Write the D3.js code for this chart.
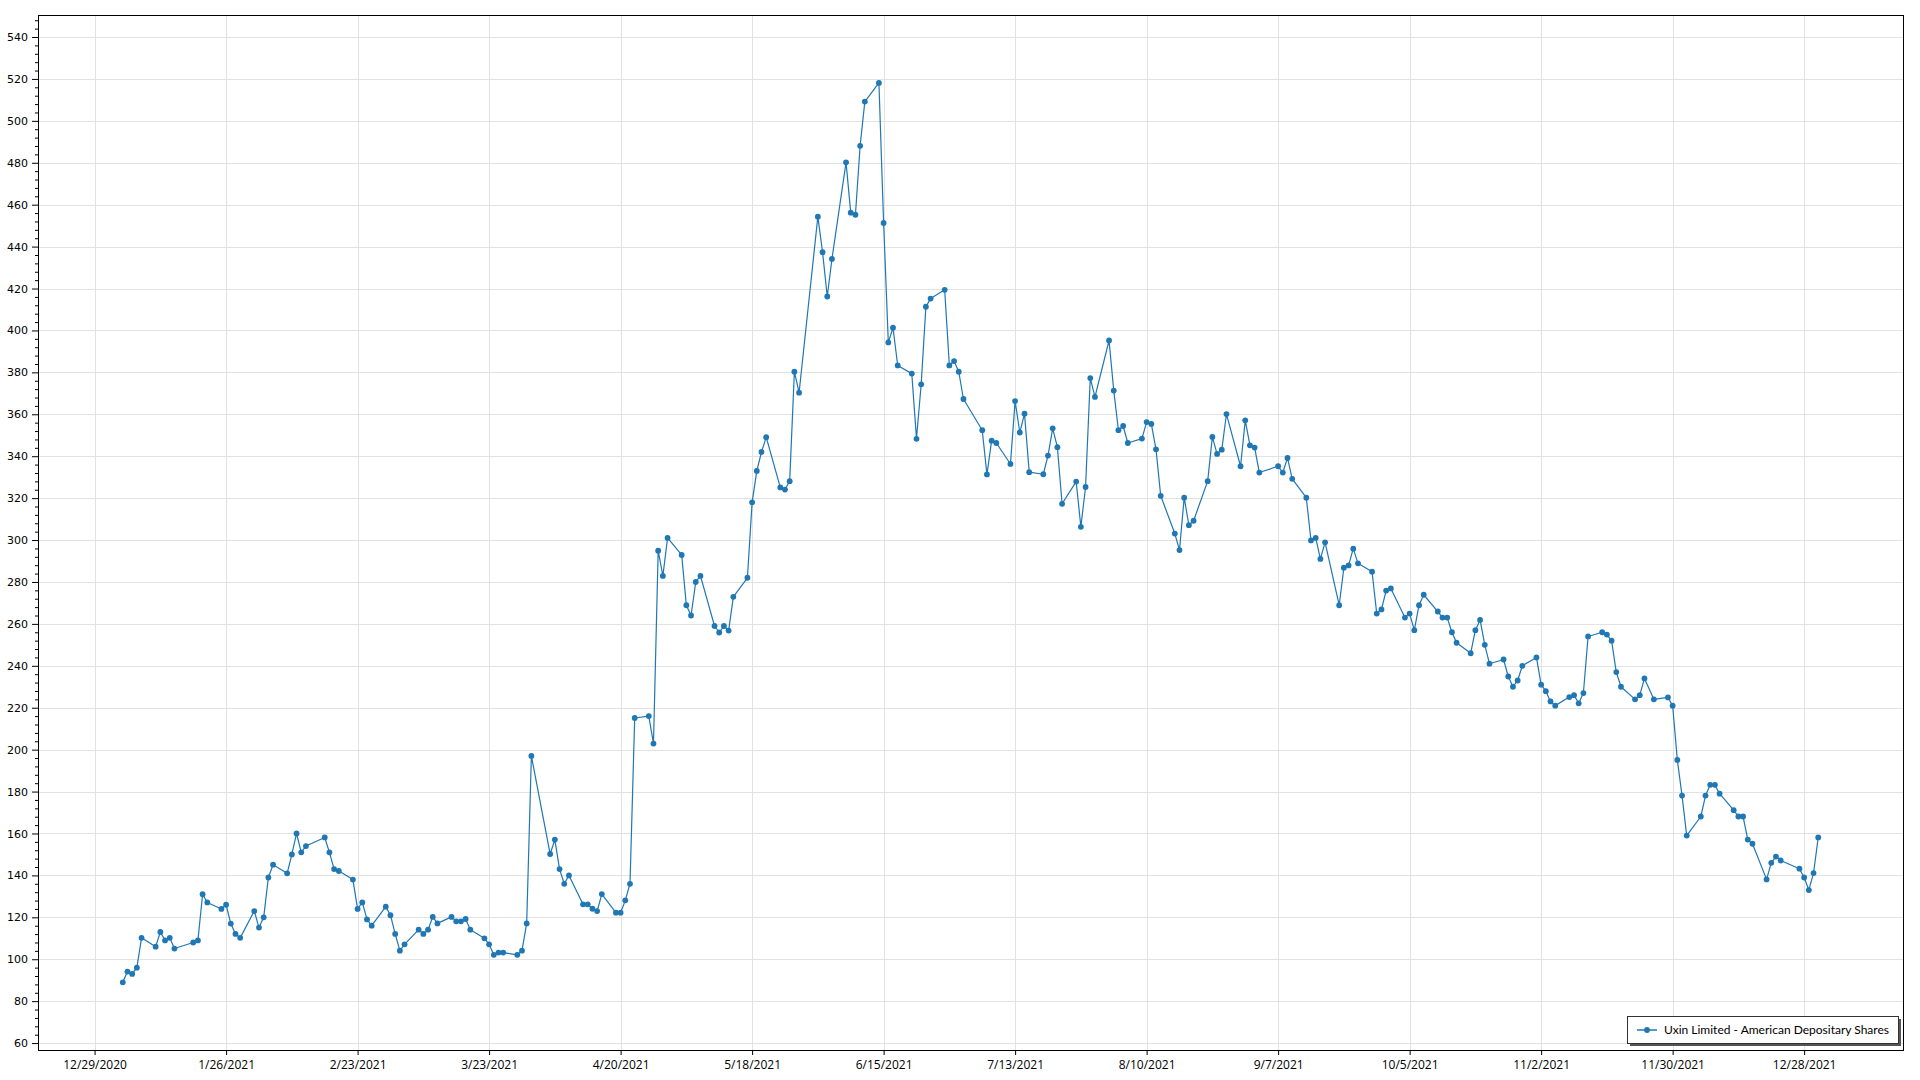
<!DOCTYPE html>
<html><head><meta charset="utf-8">
<script src="https://cdn.jsdelivr.net/npm/d3@7"></script>
<style>
html,body{margin:0;padding:0;background:#fff;}
svg{display:block;font-family:"Segoe UI","Open Sans","Noto Sans",sans-serif;}
</style>
</head><body>
<svg id="chart" width="1920" height="1080"></svg>
<script>
const seriesName = "Uxin Limited - American Depositary Shares";

const dates = [
"2021-01-04","2021-01-05","2021-01-06","2021-01-07","2021-01-08","2021-01-11","2021-01-12","2021-01-13","2021-01-14","2021-01-15",
"2021-01-19","2021-01-20","2021-01-21","2021-01-22","2021-01-25","2021-01-26","2021-01-27","2021-01-28","2021-01-29",
"2021-02-01","2021-02-02","2021-02-03","2021-02-04","2021-02-05","2021-02-08","2021-02-09","2021-02-10","2021-02-11","2021-02-12",
"2021-02-16","2021-02-17","2021-02-18","2021-02-19","2021-02-22","2021-02-23","2021-02-24","2021-02-25","2021-02-26",
"2021-03-01","2021-03-02","2021-03-03","2021-03-04","2021-03-05","2021-03-08","2021-03-09","2021-03-10","2021-03-11","2021-03-12",
"2021-03-15","2021-03-16","2021-03-17","2021-03-18","2021-03-19","2021-03-22","2021-03-23","2021-03-24","2021-03-25","2021-03-26",
"2021-03-29","2021-03-30","2021-03-31","2021-04-01","2021-04-05","2021-04-06","2021-04-07","2021-04-08","2021-04-09",
"2021-04-12","2021-04-13","2021-04-14","2021-04-15","2021-04-16","2021-04-19","2021-04-20","2021-04-21","2021-04-22","2021-04-23",
"2021-04-26","2021-04-27","2021-04-28","2021-04-29","2021-04-30","2021-05-03","2021-05-04","2021-05-05","2021-05-06","2021-05-07",
"2021-05-10","2021-05-11","2021-05-12","2021-05-13","2021-05-14","2021-05-17","2021-05-18","2021-05-19","2021-05-20","2021-05-21",
"2021-05-24","2021-05-25","2021-05-26","2021-05-27","2021-05-28","2021-06-01","2021-06-02","2021-06-03","2021-06-04",
"2021-06-07","2021-06-08","2021-06-09","2021-06-10","2021-06-11","2021-06-14","2021-06-15","2021-06-16","2021-06-17","2021-06-18",
"2021-06-21","2021-06-22","2021-06-23","2021-06-24","2021-06-25","2021-06-28","2021-06-29","2021-06-30","2021-07-01","2021-07-02",
"2021-07-06","2021-07-07","2021-07-08","2021-07-09","2021-07-12","2021-07-13","2021-07-14","2021-07-15","2021-07-16",
"2021-07-19","2021-07-20","2021-07-21","2021-07-22","2021-07-23","2021-07-26","2021-07-27","2021-07-28","2021-07-29","2021-07-30",
"2021-08-02","2021-08-03","2021-08-04","2021-08-05","2021-08-06","2021-08-09","2021-08-10","2021-08-11","2021-08-12","2021-08-13",
"2021-08-16","2021-08-17","2021-08-18","2021-08-19","2021-08-20","2021-08-23","2021-08-24","2021-08-25","2021-08-26","2021-08-27",
"2021-08-30","2021-08-31","2021-09-01","2021-09-02","2021-09-03","2021-09-07","2021-09-08","2021-09-09","2021-09-10",
"2021-09-13","2021-09-14","2021-09-15","2021-09-16","2021-09-17","2021-09-20","2021-09-21","2021-09-22","2021-09-23","2021-09-24",
"2021-09-27","2021-09-28","2021-09-29","2021-09-30","2021-10-01","2021-10-04","2021-10-05","2021-10-06","2021-10-07","2021-10-08",
"2021-10-11","2021-10-12","2021-10-13","2021-10-14","2021-10-15","2021-10-18","2021-10-19","2021-10-20","2021-10-21","2021-10-22",
"2021-10-25","2021-10-26","2021-10-27","2021-10-28","2021-10-29","2021-11-01","2021-11-02","2021-11-03","2021-11-04","2021-11-05",
"2021-11-08","2021-11-09","2021-11-10","2021-11-11","2021-11-12","2021-11-15","2021-11-16","2021-11-17","2021-11-18","2021-11-19",
"2021-11-22","2021-11-23","2021-11-24","2021-11-26","2021-11-29","2021-11-30","2021-12-01","2021-12-02","2021-12-03",
"2021-12-06","2021-12-07","2021-12-08","2021-12-09","2021-12-10","2021-12-13","2021-12-14","2021-12-15","2021-12-16","2021-12-17",
"2021-12-20","2021-12-21","2021-12-22","2021-12-23","2021-12-27","2021-12-28","2021-12-29","2021-12-30","2021-12-31"
];

const values = [
89.0,94.1,93.0,96.0,110.2,106.0,113.0,109.0,110.2,105.1,
108.0,109.0,131.0,127.1,124.0,126.0,117.0,112.1,110.2,
123.0,115.1,120.0,139.0,145.1,141.0,150.0,160.0,151.0,154.0,
158.1,151.0,143.0,142.1,138.0,124.0,127.1,119.0,116.0,
125.1,121.0,112.1,104.1,107.1,114.1,112.1,114.1,120.2,117.1,
120.2,118.1,118.1,119.2,114.1,110.0,107.1,102.1,103.2,103.2,
102.1,104.1,117.1,197.0,150.2,157.1,143.0,136.0,140.0,
126.2,126.2,124.1,123.0,131.1,122.2,122.2,128.1,136.0,215.1,
216.0,202.9,294.9,282.9,301.0,292.9,268.9,264.0,280.0,282.9,
259.0,255.9,259.0,256.8,272.9,282.0,318.0,333.0,342.0,349.1,
325.1,324.1,328.1,380.3,370.3,454.3,437.3,416.2,434.1,
480.2,456.2,455.2,488.1,509.2,518.1,451.3,394.3,401.3,383.3,
379.4,348.3,374.3,411.3,415.2,419.4,383.3,385.4,380.3,367.3,
352.4,331.3,347.4,346.3,336.3,366.3,351.3,360.3,332.4,
331.4,340.3,353.3,344.3,317.3,327.9,306.3,325.3,377.3,368.3,
395.2,371.3,352.4,354.4,346.3,348.4,356.3,355.4,343.3,321.1,
303.1,295.2,320.2,307.1,309.2,328.1,349.2,341.1,343.1,360.1,
335.2,357.1,345.2,344.1,332.2,335.2,332.2,339.2,329.2,
320.2,299.8,301.0,291.0,298.9,268.9,286.8,287.9,295.9,288.9,
284.9,264.9,266.9,275.9,276.9,263.0,264.9,257.0,268.9,273.9,
265.9,263.0,263.0,256.0,251.0,246.0,257.0,261.9,250.0,241.0,
243.0,234.9,230.0,233.0,240.0,244.0,231.0,227.9,223.0,221.0,
225.1,226.0,222.1,227.0,254.0,256.0,254.9,252.0,237.0,230.0,
224.0,226.0,234.0,224.0,224.9,221.0,195.1,178.1,159.0,
168.1,178.1,183.2,183.2,179.0,171.1,168.1,168.1,157.1,155.1,
138.1,146.0,149.0,147.1,143.2,139.0,133.0,141.1,158.1
];

const xTickDates = ["2020-12-29","2021-01-26","2021-02-23","2021-03-23","2021-04-20","2021-05-18","2021-06-15",
  "2021-07-13","2021-08-10","2021-09-07","2021-10-05","2021-11-02","2021-11-30","2021-12-28"];
const yTickValues = [60,80,100,120,140,160,180,200,220,240,260,280,300,320,340,360,380,400,420,440,460,480,500,520,540];
const yMinorStep = 4;

// ---- layout ----
const W = 1920, H = 1080;
const plot = {left: 38, right: 1903, top: 15, bottom: 1050};
const lineColor = "#1f77b4";
const gridColor = "#e2e2e2";

const parse = d3.timeParse("%Y-%m-%d");
const data = dates.map((d, i) => ({date: parse(d), value: values[i]}));
const xTicks = xTickDates.map(parse);

const t0 = data[0].date, t1 = data[data.length - 1].date;
const span = t1 - t0;
const x = d3.scaleTime()
  .domain([new Date(+t0 - span * 0.05), new Date(+t1 + span * 0.05)])
  .range([plot.left, plot.right]);
const y = d3.scaleLinear().domain([56.7, 550.5]).range([plot.bottom, plot.top]);

const svg = d3.select("#chart");
svg.append("rect").attr("width", W).attr("height", H).attr("fill", "#fff");

// grid
const grid = svg.append("g").attr("shape-rendering", "crispEdges");
grid.selectAll("line.gy").data(yTickValues).join("line")
  .attr("x1", plot.left).attr("x2", plot.right)
  .attr("y1", d => Math.round(y(d)) + 0.5).attr("y2", d => Math.round(y(d)) + 0.5)
  .attr("stroke", gridColor).attr("stroke-width", 1);
grid.selectAll("line.gx").data(xTicks).join("line")
  .attr("y1", plot.top).attr("y2", plot.bottom)
  .attr("x1", d => Math.round(x(d)) + 0.5).attr("x2", d => Math.round(x(d)) + 0.5)
  .attr("stroke", gridColor).attr("stroke-width", 1);

// axes
const fmt = d3.timeFormat("%-m/%-d/%Y");
const xAxis = d3.axisBottom(x).tickValues(xTicks).tickFormat(fmt).tickSize(5).tickSizeOuter(0);
const gx = svg.append("g").attr("transform", `translate(0,${plot.bottom})`).call(xAxis);
gx.select(".domain").remove();
gx.selectAll("text").attr("font-size", 12).attr("fill", "#000").attr("dy", "0.9em")
  .attr("font-family", "'Segoe UI','Open Sans',sans-serif");
gx.selectAll("line").attr("stroke", "#000");

const yMinor = d3.range(56.7 - (56.7 % yMinorStep) + yMinorStep, 550.5, yMinorStep).filter(v => v % 20 !== 0);
const gyMinor = svg.append("g").attr("transform", `translate(${plot.left},0)`)
  .call(d3.axisLeft(y).tickValues(yMinor).tickSize(3).tickFormat(""));
gyMinor.select(".domain").remove();
gyMinor.selectAll("line").attr("stroke", "#000");

const yAxis = d3.axisLeft(y).tickValues(yTickValues).tickSize(6).tickPadding(4).tickSizeOuter(0);
const gy = svg.append("g").attr("transform", `translate(${plot.left},0)`).call(yAxis);
gy.select(".domain").remove();
gy.selectAll("text").attr("font-size", 11).attr("fill", "#000")
  .attr("font-family", "Verdana,'DejaVu Sans',sans-serif");
gy.selectAll("line").attr("stroke", "#000");

// plot border
svg.append("rect").attr("x", plot.left + 0.5).attr("y", plot.top + 0.5)
  .attr("width", plot.right - plot.left).attr("height", plot.bottom - plot.top)
  .attr("fill", "none").attr("stroke", "#000").attr("stroke-width", 1).attr("shape-rendering", "crispEdges");

// series
const line = d3.line().x(d => x(d.date)).y(d => y(d.value));
svg.append("path").datum(data).attr("d", line).attr("fill", "none")
  .attr("stroke", lineColor).attr("stroke-width", 1.2).attr("stroke-linejoin", "round");
svg.append("g").selectAll("circle").data(data).join("circle")
  .attr("cx", d => x(d.date)).attr("cy", d => y(d.value)).attr("r", 2.9).attr("fill", lineColor);

// legend
const lg = svg.append("g").attr("transform", "translate(1627,1016)");
const lw = 271, lh = 27;
lg.append("rect").attr("x", 3).attr("y", 3).attr("width", lw).attr("height", lh).attr("fill", "#555");
lg.append("rect").attr("x", 0.5).attr("y", 0.5).attr("width", lw).attr("height", lh)
  .attr("fill", "#fff").attr("stroke", "#333").attr("stroke-width", 1);
lg.append("line").attr("x1", 10).attr("x2", 30).attr("y1", lh / 2 + 0.5).attr("y2", lh / 2 + 0.5)
  .attr("stroke", lineColor).attr("stroke-width", 1.5);
lg.append("circle").attr("cx", 20).attr("cy", lh / 2 + 0.5).attr("r", 2.9).attr("fill", lineColor);
lg.append("text").attr("x", 37).attr("y", lh / 2 + 0.5).attr("dy", "0.35em")
  .attr("font-size", 12).attr("fill", "#000")
  .attr("font-family", "Lato,'Liberation Sans',Arial,sans-serif").text(seriesName);
</script>
</body></html>
